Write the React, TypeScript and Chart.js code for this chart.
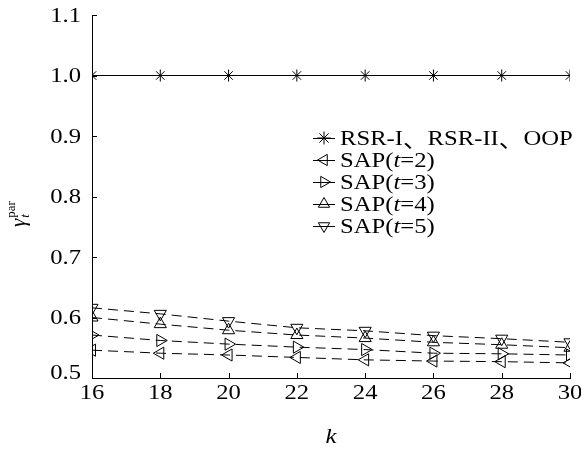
import React, { useEffect, useRef } from "react";
import { Chart, registerables } from "chart.js";

Chart.register(...registerables);

const kValues = [16, 18, 20, 22, 24, 26, 28, 30];
const rsrValues = [1.0, 1.0, 1.0, 1.0, 1.0, 1.0, 1.0, 1.0];
const sapT2 = [0.546, 0.541, 0.538, 0.534, 0.530, 0.528, 0.527, 0.525];
const sapT3 = [0.571, 0.562, 0.556, 0.551, 0.547, 0.541, 0.540, 0.538];
const sapT4 = [0.600, 0.589, 0.579, 0.571, 0.566, 0.559, 0.555, 0.550];
const sapT5 = [0.616, 0.606, 0.594, 0.583, 0.578, 0.570, 0.565, 0.559];
const yTickValues = [0.5, 0.6, 0.7, 0.8, 0.9, 1.0, 1.1];
const xTickValues = [16, 18, 20, 22, 24, 26, 28, 30];
const legendLabels = ["RSR-I、RSR-II、OOP", "SAP(t=2)", "SAP(t=3)", "SAP(t=4)", "SAP(t=5)"];
const xTitle = "k";

const FONT = '"Liberation Serif", "Times New Roman", serif';
const CJK = '"Noto Sans CJK SC"';
const STRETCH = 1.12;

type Marker = { style: string; rotation: number };
const markers: Marker[] = [
  { style: "star", rotation: 0 },
  { style: "triangle", rotation: 270 },
  { style: "triangle", rotation: 90 },
  { style: "triangle", rotation: 0 },
  { style: "triangle", rotation: 180 },
];

function drawMarker(ctx: CanvasRenderingContext2D, m: Marker, x: number, y: number, r: number) {
  ctx.save();
  ctx.strokeStyle = "#000";
  ctx.lineWidth = 1;
  ctx.setLineDash([]);
  ctx.beginPath();
  if (m.style === "star") {
    for (let i = 0; i < 4; i++) {
      const a = (i * Math.PI) / 4;
      ctx.moveTo(x - Math.cos(a) * r, y - Math.sin(a) * r);
      ctx.lineTo(x + Math.cos(a) * r, y + Math.sin(a) * r);
    }
  } else {
    let rad = (m.rotation * Math.PI) / 180;
    ctx.moveTo(x + Math.sin(rad) * r, y - Math.cos(rad) * r);
    rad += (2 * Math.PI) / 3;
    ctx.lineTo(x + Math.sin(rad) * r, y - Math.cos(rad) * r);
    rad += (2 * Math.PI) / 3;
    ctx.lineTo(x + Math.sin(rad) * r, y - Math.cos(rad) * r);
    ctx.closePath();
  }
  ctx.stroke();
  ctx.restore();
}

// draws text horizontally stretched, anchored at (x,y) with given alignment
function drawStretched(
  ctx: CanvasRenderingContext2D,
  parts: { s: string; font: string }[],
  x: number,
  y: number,
  align: "left" | "center" | "right"
) {
  let total = 0;
  for (const p of parts) {
    ctx.font = p.font;
    total += ctx.measureText(p.s).width;
  }
  total *= STRETCH;
  let start = x;
  if (align === "center") start = x - total / 2;
  if (align === "right") start = x - total;
  ctx.save();
  ctx.translate(start, y);
  ctx.scale(STRETCH, 1);
  ctx.textAlign = "left";
  let cx = 0;
  for (const p of parts) {
    ctx.font = p.font;
    ctx.fillText(p.s, cx, 0);
    cx += ctx.measureText(p.s).width;
  }
  ctx.restore();
}

function legendParts(text: string, size: number) {
  const parts: { s: string; font: string }[] = [];
  const m = text.match(/^(.*\()t(=.*)$/);
  if (m) {
    parts.push({ s: m[1], font: `${size}px ${FONT}` });
    parts.push({ s: "t", font: `italic ${size}px ${FONT}` });
    parts.push({ s: m[2], font: `${size}px ${FONT}` });
  } else {
    const segs = text.split("、");
    segs.forEach((s, i) => {
      parts.push({ s, font: `${size}px ${FONT}` });
      if (i < segs.length - 1) parts.push({ s: "、", font: `${size}px ${CJK}` });
    });
  }
  return parts;
}

const overlayPlugin = {
  id: "overlay",
  afterDraw(chart: any) {
    const ctx: CanvasRenderingContext2D = chart.ctx;
    const xs = chart.scales.x;
    const ys = chart.scales.y;
    const area = chart.chartArea;
    ctx.save();
    ctx.strokeStyle = "#000";
    ctx.fillStyle = "#000";
    ctx.lineWidth = 1;
    ctx.setLineDash([]);
    ctx.beginPath();
    for (const v of xTickValues) {
      const px = Math.round(xs.getPixelForValue(v)) + 0.5;
      ctx.moveTo(px, area.bottom);
      ctx.lineTo(px, area.bottom - 5);
    }
    for (const v of yTickValues) {
      const py = Math.round(ys.getPixelForValue(v)) + 0.5;
      ctx.moveTo(area.left, py);
      ctx.lineTo(area.left + 5, py);
    }
    ctx.stroke();

    // tick labels
    ctx.textBaseline = "middle";
    for (const v of yTickValues) {
      const py = ys.getPixelForValue(v) + (v === 0.5 ? -5 : 1);
      drawStretched(ctx, [{ s: v.toFixed(1), font: `22px ${FONT}` }], area.left - 11, py, "right");
    }
    for (const v of xTickValues) {
      const px = xs.getPixelForValue(v);
      drawStretched(ctx, [{ s: String(v), font: `22px ${FONT}` }], px, area.bottom + 15, "center");
    }
    drawStretched(ctx, [{ s: xTitle, font: `italic 22px ${FONT}` }], (area.left + area.right) / 2, 437, "center");

    // legend
    const lx = 313;
    const ly0 = 138;
    const dy = 22;
    legendLabels.forEach((label, i) => {
      const y = ly0 + i * dy;
      ctx.beginPath();
      ctx.moveTo(lx, y + 0.5);
      ctx.lineTo(lx + 22, y + 0.5);
      ctx.stroke();
      drawMarker(ctx, markers[i], lx + 11, y, 6.5);
      drawStretched(ctx, legendParts(label, 22), lx + 27, y + 1, "left");
    });

    // y-axis title: gamma_t^par
    ctx.translate(25, 212);
    ctx.rotate(-Math.PI / 2);
    ctx.textBaseline = "alphabetic";
    ctx.font = `italic 21px ${FONT}`;
    const g = "γ";
    const gw = ctx.measureText(g).width;
    ctx.fillText(g, -15, 0);
    ctx.font = `italic 13px ${FONT}`;
    ctx.fillText("t", -15 + gw + 1, 4);
    ctx.font = `13px ${FONT}`;
    ctx.fillText("par", -15 + gw + 1, -10);
    ctx.restore();
  },
};

export default function App() {
  const canvasRef = useRef<HTMLCanvasElement | null>(null);

  useEffect(() => {
    if (!canvasRef.current) return;
    const common = {
      borderColor: "#000",
      borderWidth: 1,
      pointBorderColor: "#000",
      pointBackgroundColor: "rgba(0,0,0,0)",
      pointBorderWidth: 1,
      fill: false,
      tension: 0,
    };
    const mk = (vals: number[], i: number, dashed: boolean) => ({
      ...common,
      data: kValues.map((k, j) => ({ x: k, y: vals[j] })),
      pointStyle: markers[i].style,
      rotation: markers[i].rotation,
      pointRadius: markers[i].style === "star" ? 6 : 7,
      borderDash: dashed ? [10, 6] : [],
      label: legendLabels[i],
    });
    const chart = new Chart(canvasRef.current, {
      type: "line",
      data: {
        datasets: [
          mk(rsrValues, 0, false),
          mk(sapT2, 1, true),
          mk(sapT3, 2, true),
          mk(sapT4, 3, true),
          mk(sapT5, 4, true),
        ],
      },
      options: {
        animation: false,
        responsive: false,
        devicePixelRatio: 1,
        layout: { padding: { left: 0, right: 11, top: 15, bottom: 0 } },
        plugins: { legend: { display: false }, tooltip: { enabled: false } },
        scales: {
          x: {
            type: "linear",
            min: 16,
            max: 30,
            afterBuildTicks: (s: any) => {
              s.ticks = xTickValues.map((v) => ({ value: v }));
            },
            afterFit: (s: any) => {
              s.height = 73;
            },
            grid: { display: false, drawTicks: false },
            border: { display: true, color: "#000", width: 1 },
            ticks: { display: false },
          },
          y: {
            type: "linear",
            min: 0.5,
            max: 1.1,
            afterBuildTicks: (s: any) => {
              s.ticks = yTickValues.map((v) => ({ value: v }));
            },
            afterFit: (s: any) => {
              s.width = 92;
            },
            grid: { display: false, drawTicks: false },
            border: { display: true, color: "#000", width: 1 },
            ticks: { display: false },
          },
        },
      },
      plugins: [overlayPlugin],
    } as any);
    return () => chart.destroy();
  }, []);

  return (
    <div style={{ position: "fixed", left: 0, top: 0, width: 581, height: 451, background: "#fff" }}>
      <canvas ref={canvasRef} width={581} height={451} style={{ width: 581, height: 451 }} />
    </div>
  );
}
